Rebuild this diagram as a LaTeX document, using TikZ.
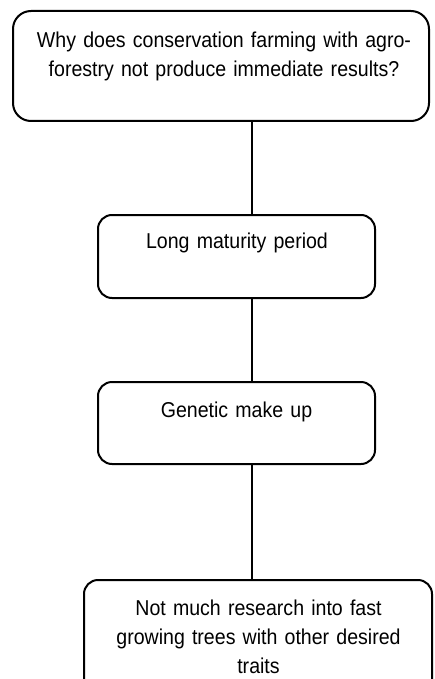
\documentclass[tikz,border=0pt]{standalone}
\usepackage{fontspec}
\setmainfont{Liberation Sans}[FakeStretch=0.91]
\begin{document}
\begin{tikzpicture}[x=1pt,y=-1pt,
  box/.style={draw=black, line width=2pt, rounded corners=14pt, inner sep=0pt},
  txt/.style={anchor=base, inner sep=0pt, align=center, text width=#1,
              font=\fontsize{21.5}{29}\selectfont},
  link/.style={draw=black, line width=2pt}]
\useasboundingbox (0,0) rectangle (435,679);
\clip (0,0) rectangle (435,679);

% question box and the three answers below it
\node[box, rounded corners=18pt, minimum width=416pt, minimum height=110pt] (q) at (221,66) {};
\node[box, minimum width=277pt, minimum height=83pt] (r1) at (236.5,256.5) {};
\node[box, minimum width=277pt, minimum height=82pt] (r2) at (236.5,423) {};
\node[box, minimum width=348pt, minimum height=119pt] (r3) at (258,639.5) {};

% texts, set near the top of each box
\node[txt=400pt] (qt) at (224,47.5) {Why does conservation farming with agro-\\forestry not produce immediate results?};
\node[txt=260pt] (r1t) at (237,248.5) {Long maturity period};
\node[txt=260pt] (r2t) at (236.5,417) {Genetic make up};
\node[txt=340pt] (r3t) at (258.5,615.7) {Not much research into fast\\growing trees with other desired\\traits};

% vertical spine joining the boxes
\coordinate (spine) at (252,0);
\draw[link] (q.south -| spine) -- (r1.north -| spine);
\draw[link] (r1.south -| spine) -- (r2.north -| spine);
\draw[link] (r2.south -| spine) -- (r3.north -| spine);
\end{tikzpicture}
\end{document}
